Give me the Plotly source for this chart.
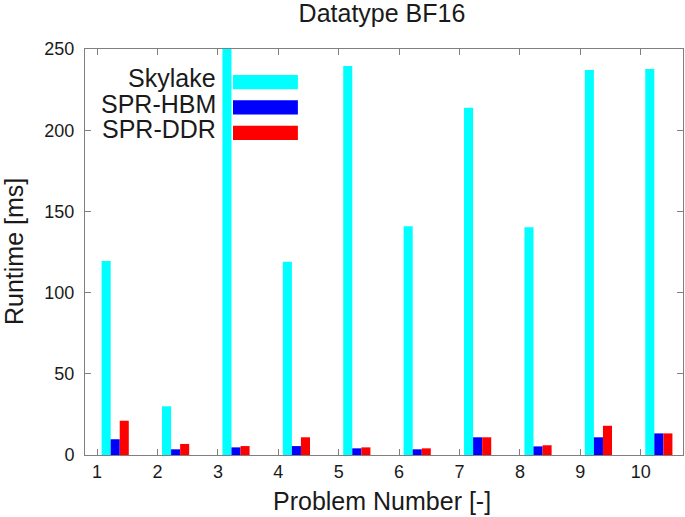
import plotly.graph_objects as go

problems = [1, 2, 3, 4, 5, 6, 7, 8, 9, 10]
skylake = [119.5, 30, 252, 119, 239.5, 140.8, 213.9, 140.2, 237.1, 237.7]
spr_hbm = [9.7, 3.5, 4.7, 5.5, 4.1, 3.5, 10.9, 5.3, 10.9, 13.3]
spr_ddr = [21.1, 6.8, 5.5, 10.9, 4.7, 4.1, 10.9, 6.0, 18.0, 13.3]

series = [
    ("Skylake", skylake, "#00FFFF", 0.075),
    ("SPR-HBM", spr_hbm, "#0000FF", 0.225),
    ("SPR-DDR", spr_ddr, "#FF0000", 0.375),
]

FONT = "Liberation Sans, Arial, Helvetica, sans-serif"
AXIS_GRAY = "#7f7f7f"

fig = go.Figure()
for name, vals, color, off in series:
    fig.add_trace(
        go.Bar(
            x=problems,
            y=vals,
            name=name,
            marker=dict(color=color, line=dict(width=0)),
            width=0.15,
            offset=off,
            showlegend=False,
        )
    )

# gnuplot-style key: text on the left, colour box on the right
for i, (name, _, color, _) in enumerate(series):
    top = 0.936 - i * 0.0625
    fig.add_shape(
        type="rect",
        xref="paper",
        yref="paper",
        x0=0.2475,
        x1=0.356,
        y0=top - 0.035,
        y1=top,
        fillcolor=color,
        line=dict(width=0),
    )
    fig.add_annotation(
        text=name,
        xref="paper",
        yref="paper",
        x=0.222,
        y=top - 0.008,
        xanchor="right",
        yanchor="middle",
        showarrow=False,
        font=dict(size=25, color="#1a1a1a", family=FONT),
    )

fig.add_annotation(
    text="Problem Number [-]",
    xref="paper",
    yref="paper",
    x=0.497,
    y=-46 / 406,
    xanchor="center",
    yanchor="middle",
    showarrow=False,
    font=dict(size=25, color="#1a1a1a", family=FONT),
)
fig.add_annotation(
    text="Runtime [ms]",
    xref="paper",
    yref="paper",
    x=-71 / 598,
    y=0.5,
    textangle=-90,
    xanchor="center",
    yanchor="middle",
    showarrow=False,
    font=dict(size=25, color="#1a1a1a", family=FONT),
)

fig.update_layout(
    width=685,
    height=517,
    margin=dict(l=85, r=2, t=49, b=62),
    barmode="overlay",
    plot_bgcolor="white",
    paper_bgcolor="white",
    font=dict(family=FONT, color="#1a1a1a"),
    title=dict(
        text="Datatype BF16",
        x=382 / 685,
        xanchor="center",
        xref="container",
        y=1 - 13 / 517,
        yanchor="middle",
        yref="container",
        font=dict(size=25, family=FONT, color="#1a1a1a"),
    ),
    xaxis=dict(
        range=[0.8, 10.7],
        tickvals=problems,
        ticks="inside",
        ticklen=6,
        tickcolor=AXIS_GRAY,
        showline=True,
        linecolor=AXIS_GRAY,
        linewidth=1,
        mirror="ticks",
        showgrid=False,
        zeroline=False,
        tickfont=dict(size=18),
    ),
    yaxis=dict(
        range=[0, 250],
        dtick=50,
        ticks="inside",
        ticklen=6,
        tickcolor=AXIS_GRAY,
        showline=True,
        linecolor=AXIS_GRAY,
        linewidth=1,
        mirror="ticks",
        showgrid=False,
        zeroline=False,
        tickfont=dict(size=18),
        ticklabelstandoff=6,
    ),
)

# drop the browser's default 8px body margin so the figure sits at (0, 0)
fig.write_html(
    "out.html",
    config={"displayModeBar": False},
    post_script="document.body.style.margin='0';",
)
